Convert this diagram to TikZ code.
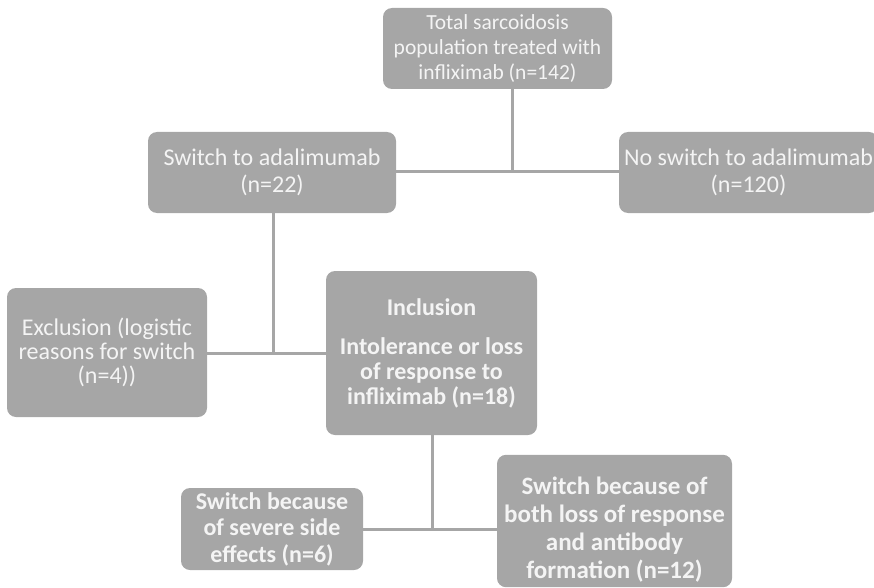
\documentclass[tikz,border=0pt]{standalone}
\usepackage{fontspec}
\setmainfont{Carlito}
\definecolor{boxgray}{HTML}{A6A6A6}
\definecolor{boxtext}{HTML}{F4F4F4}
\tikzset{
  box/.style={fill=boxgray, rounded corners=9pt, text=boxtext, align=center, inner sep=0pt,
    font=\fontsize{24}{26}\selectfont},
  boldbox/.style={box, font=\fontsize{24}{26}\selectfont\bfseries},
  link/.style={draw=boxgray, line width=3pt}
}
\begin{document}
\begin{tikzpicture}[x=1pt, y=-1pt]
\useasboundingbox (0,0) rectangle (874,588);
\clip (0,0) rectangle (874,588);
% boxes
\node[box, font=\fontsize{21.5}{25}\selectfont, minimum width=229pt, minimum height=81pt] (total) at (497.5,48.5) {Total sarcoidosis\\population treated with\\infliximab (n=142)};
\node[box, font=\fontsize{24}{27}\selectfont, minimum width=248pt, minimum height=81pt] (switch) at (272,172.5) {Switch to adalimumab\\(n=22)};
\node[box, font=\fontsize{24}{27}\selectfont, minimum width=259pt, minimum height=81pt] (noswitch) at (748.5,172.5) {No switch to adalimumab\\(n=120)};
\node[box, font=\fontsize{24}{24}\selectfont, minimum width=200pt, minimum height=129pt] (excl) at (107,352.5) {Exclusion (logistic\\reasons for switch\\(n=4))};
\node[boldbox, font=\fontsize{24}{25}\selectfont\bfseries, minimum width=211pt, minimum height=164pt] (incl) at (431.5,353) {Inclusion\\[14pt]Intolerance or loss\\of response to\\infliximab (n=18)};
\node[boldbox, font=\fontsize{24}{26.5}\selectfont\bfseries, minimum width=182pt, minimum height=82pt] (side) at (272,529) {Switch because\\of severe side\\effects (n=6)};
\node[boldbox, font=\fontsize{25}{28}\selectfont\bfseries, minimum width=235pt, minimum height=128pt] (anti) at (614.5,521) {\begin{tabular}{@{}c@{}}\rule{0pt}{40pt}Switch because of\\both loss of response\\and antibody\\formation (n=12)\end{tabular}};
% connectors
\coordinate (j1) at (512,171);
\coordinate (j2) at (273,353);
\coordinate (j3) at (432,529);
\draw[link] (total.south -| j1) -- (j1);
\draw[link] (switch.east |- j1) -- (noswitch.west |- j1);
\draw[link] (switch.south -| j2) -- (j2);
\draw[link] (excl.east |- j2) -- (incl.west |- j2);
\draw[link] (incl.south -| j3) -- (j3);
\draw[link] (side.east |- j3) -- (anti.west |- j3);
\end{tikzpicture}
\end{document}
